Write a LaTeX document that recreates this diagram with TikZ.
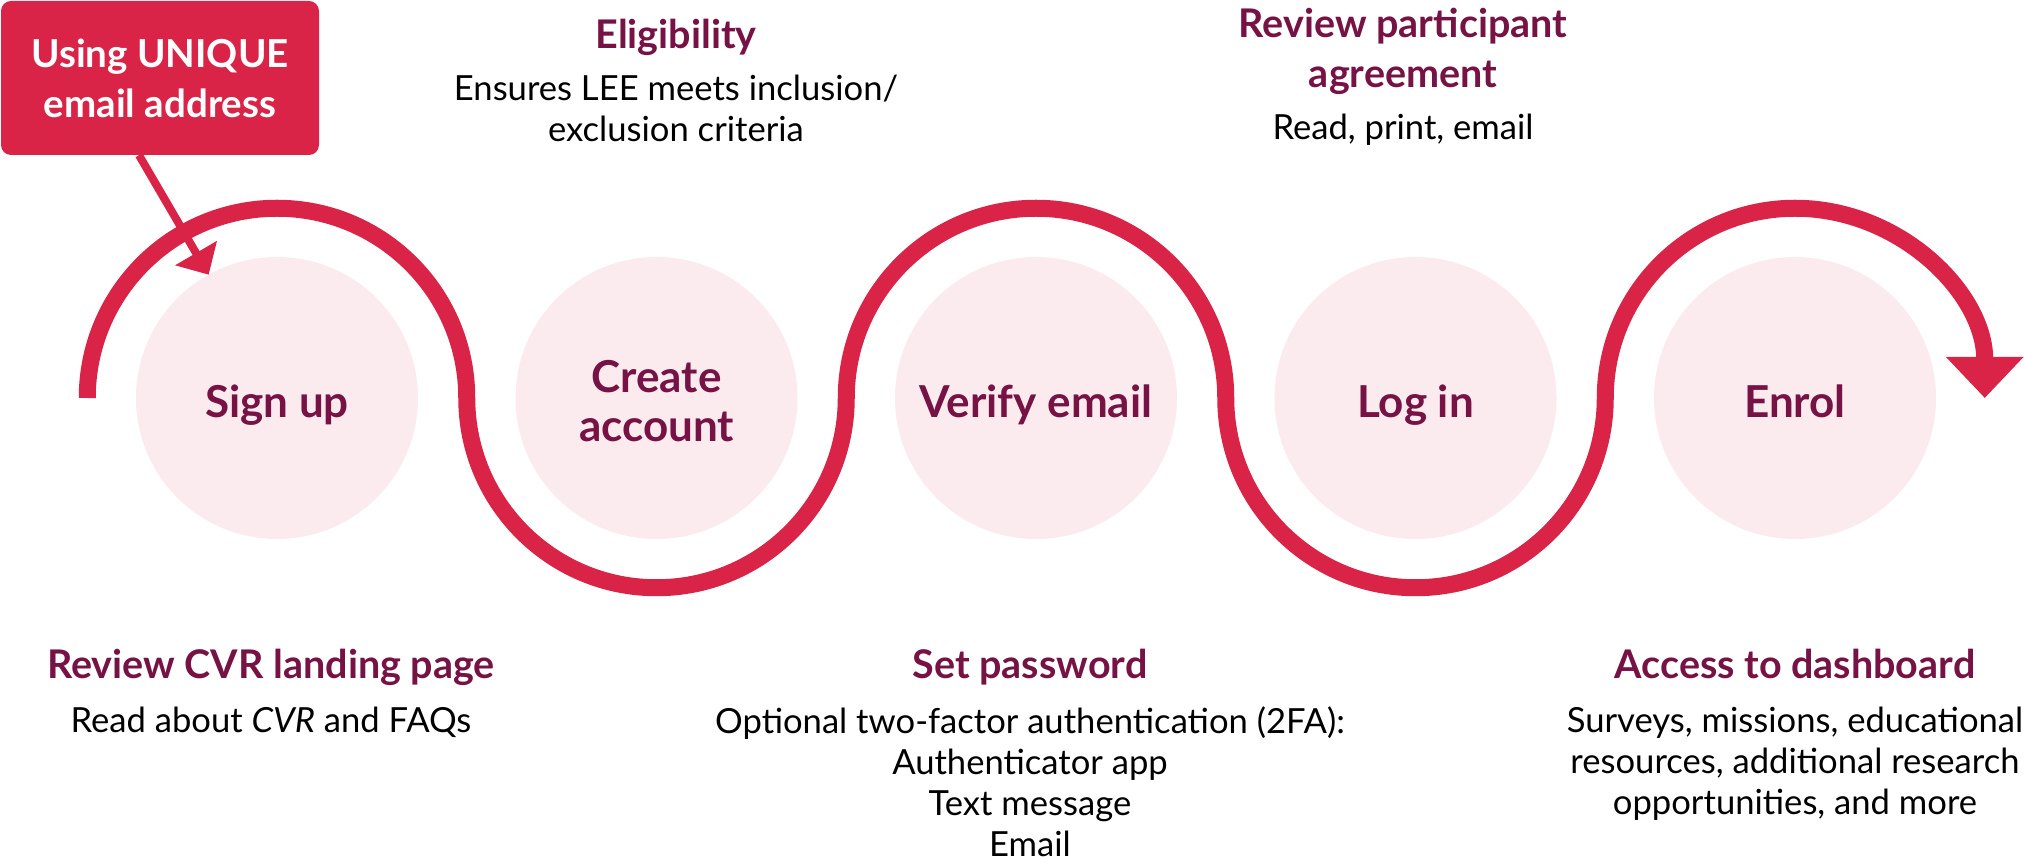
\documentclass[tikz,border=0pt]{standalone}
\usepackage{fontspec}
\setmainfont{Lato}
\usetikzlibrary{arrows.meta}
\definecolor{cvrred}{HTML}{D92347}
\definecolor{cvrpurple}{HTML}{761244}
\definecolor{cvrpink}{HTML}{FBEAEE}
\tikzset{
  stepcirc/.style={circle, fill=cvrpink, draw=none, minimum size=282pt, inner sep=0pt, outer sep=0pt},
  steplbl/.style={font=\fontsize{44}{49}\selectfont\bfseries, text=cvrpurple, align=center, anchor=base, inner sep=0pt},
  headtxt/.style={font=\fontsize{39.5}{50}\selectfont\bfseries, text=cvrpurple, align=center, anchor=base, inner sep=0pt},
  bodytxt/.style={font=\fontsize{34.6}{41}\selectfont, text=black, align=center, anchor=base, inner sep=0pt},
  snakepath/.style={draw=cvrred, line width=17pt, line cap=butt},
  notebox/.style={rectangle, rounded corners=10pt, fill=cvrred, minimum width=318pt, minimum height=154pt, inner sep=0pt,
    font=\fontsize{38.5}{50}\selectfont\bfseries, text=white, align=center},
  pointer/.style={draw=cvrred, line width=8pt, -{Triangle[width=47pt,length=25pt]}},
}
\begin{document}
\begin{tikzpicture}[x=1pt,y=1pt]
\useasboundingbox (0,0) rectangle (2024,857);

% step circles
\node[stepcirc] (signup) at (277,459) {};
\node[stepcirc] (create) at (656.5,459) {};
\node[stepcirc] (verify) at (1036,459) {};
\node[stepcirc] (login)  at (1415.5,459) {};
\node[stepcirc] (enrol)  at (1795,459) {};

% serpentine path
\coordinate (pstart) at ([xshift=-189.75pt]signup.center);
\draw[snakepath, -{Triangle[width=75pt,length=41pt]}] (pstart)
  arc[start angle=180, end angle=0, radius=189.75]
  arc[start angle=180, end angle=360, radius=189.75]
  arc[start angle=180, end angle=0, radius=189.75]
  arc[start angle=180, end angle=360, radius=189.75]
  arc[start angle=180, end angle=0, radius=189.75];

% step labels (multi-line nodes: base = last line)
\node[steplbl] (signupL) at (277,439) {Sign up};
\node[steplbl] (createL) at (656.5,415) {Create\\account};
\node[steplbl] (verifyL) at (1036,439) {Verify email};
\node[steplbl] (loginL)  at (1415.5,439) {Log in};
\node[steplbl] (enrolL)  at (1795,439) {Enrol};

% callout box
\node[notebox] (box) at (160,779) {Using UNIQUE\\email address};
\draw[pointer] ([xshift=-21pt]box.south) -- (signup.119.3);

% top texts
\node[headtxt] (eligH) at (676,808) {Eligibility};
\node[bodytxt] (eligB) at (676,715) {Ensures LEE meets inclusion/\\exclusion criteria};
\node[headtxt] (agreeH) at (1403,769) {Review participant\\agreement};
\node[bodytxt] (agreeB) at (1403,717) {Read, print, email};

% bottom texts
\node[headtxt] (cvrH) at (271,178) {Review CVR landing page};
\node[bodytxt] (cvrB) at (271,124) {Read about \textit{CVR} and FAQs};
\node[headtxt] (pwH) at (1030,178) {Set password};
\node[bodytxt] (pwB) at (1030,1) {Optional two-factor authentication (2FA):\\Authenticator app\\Text message\\Email};
\node[headtxt] (dashH) at (1795,178) {Access to dashboard};
\node[bodytxt] (dashB) at (1795,43) {Surveys, missions, educational\\resources, additional research\\opportunities, and more};
\end{tikzpicture}
\end{document}
